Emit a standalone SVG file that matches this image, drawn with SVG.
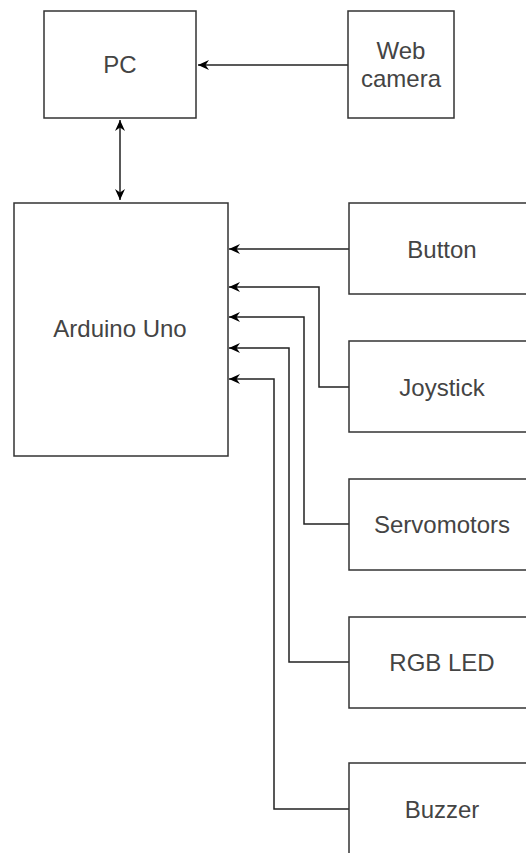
<svg xmlns="http://www.w3.org/2000/svg" width="526" height="853" viewBox="0 0 526 853">
<style>
.box{fill:#fff;stroke:#333;stroke-width:1.5}
.lbl{font-family:"Liberation Sans",Arial,sans-serif;font-size:24px;fill:#444;text-anchor:middle;dominant-baseline:central}
.c{fill:none;stroke:#222;stroke-width:1.5}
</style>
<defs>
<marker id="ah" markerUnits="userSpaceOnUse" viewBox="0 0 11 10" refX="11" refY="5" markerWidth="11" markerHeight="10" orient="auto-start-reverse">
<path d="M0,0 L11,5 L0,10 L3.5,5 Z" fill="#000"/>
</marker>
</defs>
<rect width="526" height="853" fill="#fff"/>
<g id="connectors">
<path class="c" d="M348,65 H198" marker-end="url(#ah)"/>
<path class="c" d="M120,120 V200" marker-start="url(#ah)" marker-end="url(#ah)"/>
<path class="c" d="M349,249 H229" marker-end="url(#ah)"/>
<path class="c" d="M349,387 H319 V287 H229" marker-end="url(#ah)"/>
<path class="c" d="M349,524 H304 V317 H229" marker-end="url(#ah)"/>
<path class="c" d="M349,662 H289 V348 H229" marker-end="url(#ah)"/>
<path class="c" d="M349,809 H274 V379 H229" marker-end="url(#ah)"/>
</g>
<g id="pc"><rect class="box" x="44" y="11" width="152" height="107"/><text class="lbl" x="120" y="64">PC</text></g>
<g id="webcam"><rect class="box" x="348" y="11" width="106" height="107"/><text class="lbl" x="401" y="50">Web</text><text class="lbl" x="401" y="78">camera</text></g>
<g id="arduino"><rect class="box" x="14" y="203" width="214" height="253"/><text class="lbl" x="120" y="328">Arduino Uno</text></g>
<g id="button"><rect class="box" x="349" y="203" width="186" height="91"/><text class="lbl" x="442" y="249">Button</text></g>
<g id="joystick"><rect class="box" x="349" y="341" width="186" height="91"/><text class="lbl" x="442" y="387">Joystick</text></g>
<g id="servomotors"><rect class="box" x="349" y="479" width="186" height="91"/><text class="lbl" x="442" y="524">Servomotors</text></g>
<g id="rgbled"><rect class="box" x="349" y="617" width="186" height="91"/><text class="lbl" x="442" y="662">RGB LED</text></g>
<g id="buzzer"><rect class="box" x="349" y="763" width="186" height="100"/><text class="lbl" x="442" y="809">Buzzer</text></g>
</svg>
